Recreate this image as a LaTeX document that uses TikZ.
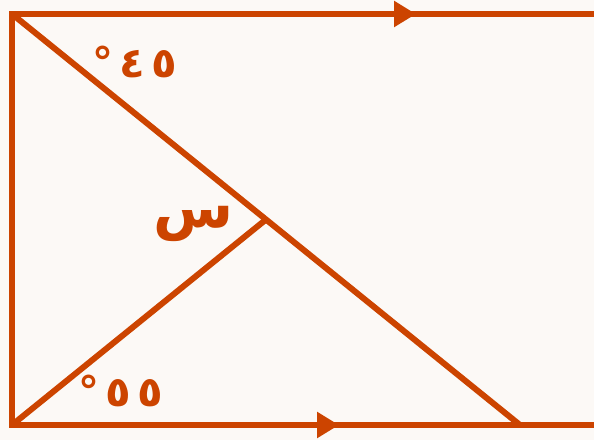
\documentclass[tikz,border=0pt]{standalone}
\usepackage{fontspec}
\newfontfamily\arabicfont[Script=Arabic]{DejaVu Sans}
\TeXXeTstate=1
\usetikzlibrary{arrows.meta,calc}
\definecolor{rust}{RGB}{204,68,0}
\definecolor{paper}{RGB}{252,249,246}
\tikzset{
  edge/.style={draw=rust, line width=6pt},
  flow/.style={edge, -{Triangle[length=22pt,width=25pt]}},
  angle label/.style={text=rust, font=\arabicfont\bfseries\fontsize{42}{44}\selectfont},
  var label/.style={text=rust, font=\arabicfont\bfseries\fontsize{58}{60}\selectfont}
}
\begin{document}
\begin{tikzpicture}[x=1pt, y=-1pt]
	\fill[paper] (0,0) rectangle (594,440);
	\useasboundingbox (0,0) rectangle (594,440);
	% corners and points
	\coordinate (tl) at (12,14);
	\coordinate (tr) at (594,14);
	\coordinate (bl) at (12,425);
	\coordinate (br) at (594,425);
	\coordinate (foot) at (520,425);
	\coordinate (meet) at ($(tl)!0.5!(foot)$);
	\coordinate (toptip) at (416,14);
	\coordinate (bottip) at (339,425);
	% lines
	\draw[edge, line join=miter] (tr) -- (tl) -- (bl) -- (br);
	\draw[edge] (tl) -- (foot);
	\draw[edge] (bl) -- (meet);
	\draw[flow] (tl) -- (toptip);
	\draw[flow] (bl) -- (bottip);
	% labels
	\node[angle label] (a45) at (135,62) {\beginR\beginL ٤\hspace{6pt}٥\endL\hspace{6pt}°\endR};
	\node[var label] (x) at (194,224) {\beginR س\endR};
	\node[angle label] (a55) at (121,391) {\beginR\beginL ٥\hspace{6pt}٥\endL\hspace{6pt}°\endR};
\end{tikzpicture}
\end{document}
